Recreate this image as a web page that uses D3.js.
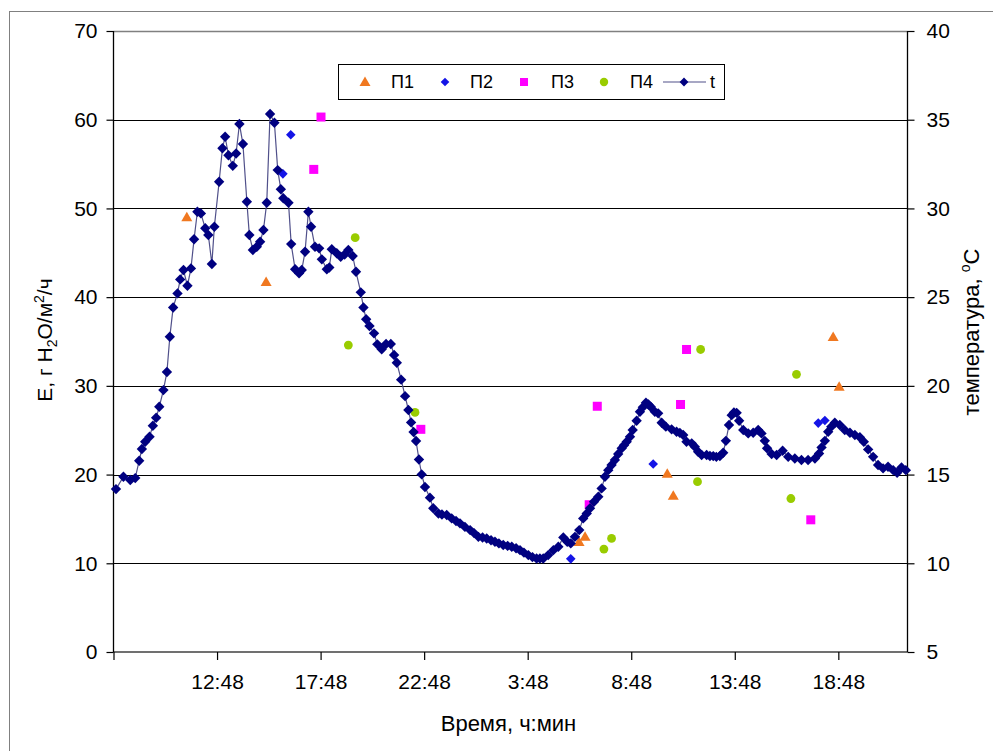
<!DOCTYPE html>
<html><head><meta charset="utf-8">
<script src="https://cdn.jsdelivr.net/npm/d3@7/dist/d3.min.js"></script>
<style>
html,body{margin:0;padding:0;background:#fff;}
text{font-family:"Liberation Sans",Arial,sans-serif;fill:#000;}
</style></head><body>
<svg id="chart" width="993" height="751"></svg>
<script>
// ---- DATA ----
// time: hours elapsed since 7:48 of day 1
const startClock = 7.8; // 7:48
const xTickHours = [0,5,10,15,20,25,30,35];
const eTicks = [0,10,20,30,40,50,60,70];
const tTicks = [5,10,15,20,25,30,35,40];

const tHours = [0.12,0.48,0.81,1.05,1.24,1.37,1.53,1.74,1.90,2.06,2.21,2.41,2.58,2.72,2.88,3.09,3.22,3.38,3.57,3.74,
3.89,4.05,4.22,4.43,4.58,4.75,4.87,5.10,5.26,5.39,5.55,5.76,5.92,6.08,6.25,6.44,6.56,6.73,6.92,7.08,
7.24,7.40,7.56,7.77,7.93,8.08,8.20,8.45,8.58,8.77,8.96,9.09,9.25,9.41,9.54,9.73,9.93,10.06,10.30,10.42,
10.54,10.78,10.97,11.16,11.34,11.55,11.71,11.94,12.07,12.20,12.36,12.58,12.74,12.95,13.16,13.39,13.55,13.68,13.89,14.08,
14.24,14.37,14.49,14.61,14.75,14.88,15.04,15.28,15.44,15.69,15.86,16.09,16.33,16.54,16.73,16.97,17.22,17.41,17.62,17.82,
18.02,18.23,18.42,18.61,18.82,19.03,19.23,19.44,19.63,19.82,20.03,20.23,20.43,20.59,20.75,20.99,21.24,21.48,21.72,21.91,
22.08,22.28,22.49,22.68,22.85,23.01,23.20,23.41,23.57,23.73,23.89,24.05,24.21,24.37,24.54,24.65,24.78,24.94,25.07,25.26,
25.42,25.56,25.71,25.83,25.94,26.14,26.30,26.47,26.67,26.95,27.19,27.35,27.51,27.67,27.92,28.07,28.23,28.40,28.64,28.80,
28.96,29.11,29.28,29.44,29.57,29.72,29.85,29.96,30.09,30.21,30.41,30.65,30.89,31.13,31.29,31.45,31.56,31.78,32.02,32.31,
32.58,32.90,33.22,33.54,33.87,34.07,34.19,34.35,34.51,34.66,34.83,35.07,35.31,35.56,35.80,36.04,36.23,36.44,36.68,36.92,
37.16,37.40,37.65,37.84,38.05,38.26];
const tTemp = [14.18,14.88,14.69,14.80,15.78,16.44,16.85,17.13,17.75,18.20,18.82,19.76,20.78,22.77,24.42,25.21,26.00,26.53,25.64,26.62,
28.26,29.81,29.72,28.88,28.50,26.87,28.97,31.50,33.39,34.04,33.00,32.40,33.10,34.76,33.63,30.38,28.50,27.66,27.84,28.12,
28.78,30.32,35.32,34.83,32.16,31.08,30.57,30.32,27.99,26.57,26.34,26.53,27.56,29.81,28.97,27.84,27.75,27.13,26.57,26.67,
27.70,27.47,27.28,27.40,27.66,27.32,26.43,25.27,24.42,23.75,23.37,22.96,22.34,22.06,22.36,22.36,21.74,21.30,20.35,19.42,
18.64,17.94,17.40,16.89,15.85,15.01,14.30,13.70,13.10,12.81,12.75,12.72,12.53,12.38,12.25,12.05,11.87,11.70,11.49,11.45,
11.40,11.30,11.21,11.12,11.03,10.98,10.93,10.85,10.74,10.60,10.46,10.35,10.27,10.27,10.27,10.46,10.74,10.93,11.46,11.21,
11.12,11.49,11.87,12.53,12.81,13.10,13.47,13.75,14.22,14.88,15.25,15.54,15.82,16.16,16.48,16.65,16.85,17.13,17.51,18.03,
18.54,18.80,19.05,18.95,18.82,18.54,18.45,17.92,17.70,17.55,17.41,17.35,17.23,16.85,16.76,16.57,16.29,16.10,16.10,16.05,
16.04,16.00,16.04,16.23,16.90,17.79,18.35,18.50,18.48,18.03,17.51,17.32,17.36,17.51,17.32,16.90,16.48,16.16,16.10,16.34,
16.00,15.91,15.82,15.82,15.91,16.19,16.53,16.90,17.41,17.70,17.92,17.79,17.51,17.36,17.23,17.10,16.85,16.42,16.00,15.54,
15.35,15.44,15.25,15.10,15.40,15.25];

const p1Hours = [3.54,7.37,22.48,22.77,26.74,27.03,34.75,35.04];
const p1E     = [49.0,41.7,12.4,13.0,20.1,17.6,35.5,29.9];
const p2Hours = [8.18,8.56,22.08,26.06,34.03,34.35];
const p2E     = [53.9,58.3,10.5,21.2,25.8,26.1];
const p3Hours = [9.67,10.02,14.84,22.97,23.36,27.38,27.67,33.67];
const p3E     = [54.4,60.3,25.1,16.6,27.7,27.9,34.1,14.9];
const p4Hours = [11.34,11.67,14.56,23.68,24.05,28.20,28.35,32.71,32.98];
const p4E     = [34.6,46.7,27.0,11.6,12.8,19.2,34.1,17.3,31.3];

const legendNames = ["П1","П2","П3","П4","t"];

// ---- LAYOUT ----
const svg = d3.select("#chart");
const L = 113.5, R = 907.5, T = 31, B = 652;
const x = d3.scaleLinear().domain([0, 38.34]).range([L, R]);
const yE = d3.scaleLinear().domain([0, 70]).range([B, T]);
const yT = d3.scaleLinear().domain([5, 40]).range([B, T]);

// outer frame
svg.append("rect").attr("x",9.5).attr("y",11.5).attr("width",1000).attr("height",800)
  .attr("fill","none").attr("stroke","#808080").attr("stroke-width",1);

// gridlines
svg.append("g").selectAll("line").data(eTicks.filter(d=>d>0 && d<70)).join("line")
  .attr("x1",L).attr("x2",R).attr("y1",d=>Math.round(yE(d))+0.5).attr("y2",d=>Math.round(yE(d))+0.5)
  .attr("stroke","#000").attr("stroke-width",1);
// plot top border
svg.append("line").attr("x1",L).attr("x2",R).attr("y1",T+0.5).attr("y2",T+0.5)
  .attr("stroke","#808080").attr("stroke-width",1.5);

function fmtClock(h){
  let tot = Math.round((startClock + h)*60) % (24*60);
  const hh = Math.floor(tot/60), mm = tot%60;
  return hh + ":" + String(mm).padStart(2,"0");
}

// axes
const gx = svg.append("g").attr("transform",`translate(0,${B})`)
  .call(d3.axisBottom(x).tickValues(xTickHours).tickSize(8).tickPadding(14)
    .tickFormat(d => d===0 ? "" : fmtClock(d)));
const gl = svg.append("g").attr("transform",`translate(${L},0)`)
  .call(d3.axisLeft(yE).tickValues(eTicks).tickSize(7).tickPadding(9).tickFormat(d3.format("d")));
const gr = svg.append("g").attr("transform",`translate(${R},0)`)
  .call(d3.axisRight(yT).tickValues(tTicks).tickSize(7).tickPadding(12).tickFormat(d3.format("d")));
[gx,gl,gr].forEach(g=>{
  g.select(".domain").attr("stroke","#000").attr("stroke-width",1.3);
  g.selectAll(".tick line").attr("stroke","#000").attr("stroke-width",1.2);
  g.selectAll(".tick text").attr("font-size",21).attr("font-family","Liberation Sans, Arial, sans-serif").attr("fill","#000");
});
gl.select(".domain").attr("d",`M0,${T}V${B}`);
gr.select(".domain").attr("d",`M0,${T}V${B}`);
gx.select(".domain").attr("d",`M${L},0H${R}`).attr("stroke","#404040");

// axis titles
svg.append("text").attr("x",(L+R)/2 - 2).attr("y",731).attr("text-anchor","middle")
  .attr("font-size",22).text("Время, ч:мин");
const lt = svg.append("text").attr("transform",`translate(52,340) rotate(-90)`)
  .attr("text-anchor","middle").attr("font-size",21);
lt.append("tspan").text("E, г H");
lt.append("tspan").attr("font-size",14).attr("dy",5).text("2");
lt.append("tspan").attr("dy",-5).text("O/м");
lt.append("tspan").attr("font-size",14).attr("dy",-8).text("2");
lt.append("tspan").attr("dy",8).text("/ч");
const rt = svg.append("text").attr("transform",`translate(979,332) rotate(-90)`)
  .attr("text-anchor","middle").attr("font-size",22);
rt.append("tspan").text("температура, ");
rt.append("tspan").attr("font-size",14).attr("dy",-9).text("o");
rt.append("tspan").attr("dy",9).text("C");

// marker shapes
const triPath = "M0,-5.5L5.5,4L-5.5,4Z";
const diaPath = s => `M0,${-s}L${s},0L0,${s}L${-s},0Z`;
const col = {p1:"#f07820", p2:"#1414e6", p3:"#ff00ff", p4:"#99cc00", t:"#000080"};

const plot = svg.append("g");
function scatter(hours, vals, kind){
  const data = hours.map((h,i)=>({h, v: vals[i]}));
  const g = plot.append("g");
  if(kind==="p1") g.selectAll("path").data(data).join("path").attr("d",triPath)
      .attr("transform",d=>`translate(${x(d.h)},${yE(d.v)})`).attr("fill",col.p1);
  if(kind==="p2") g.selectAll("path").data(data).join("path").attr("d",diaPath(4.8))
      .attr("transform",d=>`translate(${x(d.h)},${yE(d.v)})`).attr("fill",col.p2);
  if(kind==="p3") g.selectAll("rect").data(data).join("rect")
      .attr("x",d=>x(d.h)-4.5).attr("y",d=>yE(d.v)-4.5).attr("width",9).attr("height",9).attr("fill",col.p3);
  if(kind==="p4") g.selectAll("circle").data(data).join("circle")
      .attr("cx",d=>x(d.h)).attr("cy",d=>yE(d.v)).attr("r",4.4).attr("fill",col.p4);
}
scatter(p1Hours,p1E,"p1");
scatter(p2Hours,p2E,"p2");
scatter(p3Hours,p3E,"p3");
scatter(p4Hours,p4E,"p4");

const tData = tHours.map((h,i)=>({h, v:tTemp[i]}));
plot.append("path").datum(tData)
  .attr("d", d3.line().x(d=>x(d.h)).y(d=>yT(d.v)))
  .attr("fill","none").attr("stroke","#50508a").attr("stroke-width",1.2);
plot.append("g").selectAll("path").data(tData).join("path").attr("d",diaPath(5.2))
  .attr("transform",d=>`translate(${x(d.h)},${yT(d.v)})`).attr("fill",col.t);

// legend
const lg = svg.append("g");
lg.append("rect").attr("x",338.5).attr("y",64.5).attr("width",386).attr("height",35)
  .attr("fill","#fff").attr("stroke","#000").attr("stroke-width",1);
const ly = 82;
lg.append("path").attr("d",triPath).attr("transform",`translate(365,${ly})`).attr("fill",col.p1);
lg.append("path").attr("d",diaPath(4.3)).attr("transform",`translate(445,${ly})`).attr("fill",col.p2);
lg.append("rect").attr("x",520).attr("y",ly-4).attr("width",8).attr("height",8).attr("fill",col.p3);
lg.append("circle").attr("cx",604).attr("cy",ly).attr("r",4.2).attr("fill",col.p4);
lg.append("line").attr("x1",663).attr("x2",706).attr("y1",ly).attr("y2",ly).attr("stroke","#50508a").attr("stroke-width",1.2);
lg.append("path").attr("d",diaPath(4.4)).attr("transform",`translate(684,${ly})`).attr("fill",col.t);
const lxs = [391,470,551,630,710];
lg.selectAll("text.lt").data(legendNames).join("text").attr("class","lt")
  .attr("x",(d,i)=>lxs[i]).attr("y",ly+6).attr("font-size",18).text(d=>d);
</script>
</body></html>
